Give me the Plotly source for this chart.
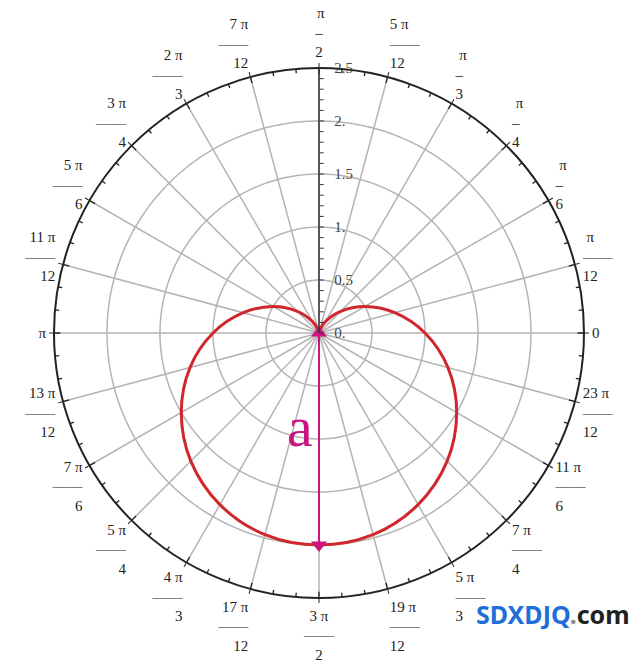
import numpy as np
import plotly.graph_objects as go

# Cardioid samples (theta in degrees, r in units)
theta_deg = [0, 15, 30, 45, 60, 75, 90, 105, 120, 135, 150, 165, 180,
             195, 210, 225, 240, 255, 270, 285, 300, 315, 330, 345, 360]
r_vals = [1.00, 0.74, 0.50, 0.29, 0.13, 0.03, 0.00, 0.03, 0.13, 0.29, 0.50, 0.74, 1.00,
          1.26, 1.50, 1.71, 1.87, 1.97, 2.00, 1.97, 1.87, 1.71, 1.50, 1.26, 1.00]

# Arrow "a": from pole to bottom of curve
arrow_r = [0.0, 2.0]
arrow_theta = [270, 270]

radial_grid = [0.5, 1.0, 1.5, 2.0]
radial_labels = {0.0: "0.", 0.5: "0.5", 1.0: "1.", 1.5: "1.5", 2.0: "2.", 2.5: "2.5"}
r_max = 2.5

angle_labels = {
    0: "0", 15: "π/12", 30: "π/6", 45: "π/4", 60: "π/3", 75: "5π/12",
    90: "π/2", 105: "7π/12", 120: "2π/3", 135: "3π/4", 150: "5π/6", 165: "11π/12",
    180: "π", 195: "13π/12", 210: "7π/6", 225: "5π/4", 240: "4π/3", 255: "17π/12",
    270: "3π/2", 285: "19π/12", 300: "5π/3", 315: "7π/4", 330: "11π/6", 345: "23π/12",
}


def frac(s):
    if "/" not in s:
        return s
    num, den = s.split("/")
    wide = len(num) > 1 or len(den) > 1
    bar = "\u2014\u2014" if wide else "\u2013"
    return f"{num.replace('π', ' π')}<br>{bar}<br>{den}"


SERIF = "Liberation Serif, Times New Roman, serif"
GRID = "#b4b4b4"

fig = go.Figure()

# spokes every 15 degrees
sp_r, sp_t = [], []
for a in angle_labels:
    sp_r += [0, r_max, None]
    sp_t += [a, a, None]
fig.add_trace(go.Scatterpolar(r=sp_r, theta=sp_t, mode="lines",
                              line=dict(color=GRID, width=1.5), hoverinfo="skip",
                              showlegend=False))
# grid circles
circ_t = np.linspace(0, 360, 361)
for g in radial_grid:
    fig.add_trace(go.Scatterpolar(r=[g] * len(circ_t), theta=circ_t, mode="lines",
                                  line=dict(color=GRID, width=1.5), hoverinfo="skip",
                                  showlegend=False))

# minor ticks on the outer circle every 5 degrees
mt_r, mt_t = [], []
for a in range(0, 360, 5):
    inner = 2.44 if a % 15 == 0 else 2.46
    mt_r += [inner, r_max, None]
    mt_t += [a, a, None]
fig.add_trace(go.Scatterpolar(r=mt_r, theta=mt_t, mode="lines",
                              line=dict(color="#222", width=1.3), hoverinfo="skip",
                              showlegend=False))

# cardioid
fig.add_trace(go.Scatterpolar(r=r_vals, theta=theta_deg, mode="lines",
                              line=dict(color="#d0262c", width=3, shape="spline"),
                              showlegend=False))

# arrow
fig.add_trace(go.Scatterpolar(r=arrow_r, theta=arrow_theta, mode="lines+markers",
                              line=dict(color="#c8157f", width=2),
                              marker=dict(symbol=["triangle-up", "triangle-down"], size=14,
                                          color="#c8157f"),
                              showlegend=False))

rad_ticks = [round(i * 0.1, 1) for i in range(0, 26)]
rad_text = [("\u00a0\u00a0" + radial_labels[v]) if v in radial_labels else "" for v in rad_ticks]

fig.update_layout(
    width=639, height=666,
    margin=dict(l=0, r=0, t=0, b=0),
    paper_bgcolor="white", plot_bgcolor="white",
    polar=dict(
        domain=dict(x=[0.0845, 0.9139], y=[0.1021, 0.8979]),
        bgcolor="white",
        radialaxis=dict(range=[0, r_max], angle=90, tickangle=90,
                        tickvals=rad_ticks, ticktext=rad_text,
                        showgrid=False, showline=True, linecolor="#333", linewidth=1.5,
                        ticks="outside", ticklen=4, tickcolor="#333",
                        tickfont=dict(family=SERIF, size=15, color="#444"),
                        side="clockwise", layer="above traces"),
        angularaxis=dict(rotation=0, direction="counterclockwise",
                         tickvals=list(angle_labels.keys()),
                         ticktext=[frac(v) for v in angle_labels.values()],
                         showgrid=False, showline=True, linecolor="#222", linewidth=2,
                         ticks="outside", ticklen=4, tickcolor="#222",
                         tickfont=dict(family=SERIF, size=15, color="#222")),
    ),
    annotations=[
        dict(text="a", x=300 / 639, y=1 - 426 / 666, xref="paper", yref="paper",
             xanchor="center", yanchor="middle",
             showarrow=False, font=dict(family=SERIF, size=58, color="#c8157f")),
        dict(text="<b><span style='color:#1f6fd8'>SDXDJQ</span><span style='color:#888'>.</span>"
                  "<span style='color:#222'>com</span></b>",
             x=553 / 639, y=1 - 614 / 666, xref="paper", yref="paper", showarrow=False,
             xanchor="center", yanchor="middle",
             font=dict(family="Noto Sans, Open Sans, sans-serif", size=25)),
    ],
)

fig.write_html("out.html", config={"displayModeBar": False},
               post_script="document.body.style.margin='0';"
                           "document.body.style.overflow='hidden';")
